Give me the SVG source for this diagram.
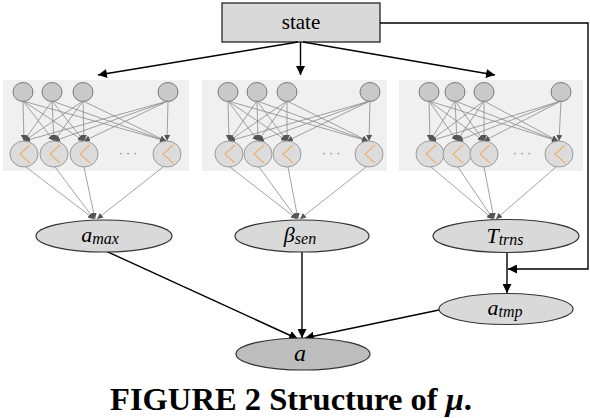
<svg xmlns="http://www.w3.org/2000/svg" width="590" height="418" viewBox="0 0 590 418">
<style>
.panel{fill:#f0f0f0;stroke:none}
.tc{fill:#c9c9c9;stroke:#7a7a7a;stroke-width:1}
.bc{fill:#dcdcdc;stroke:#9a9a9a;stroke-width:1}
.chev{fill:none;stroke:#f0b070;stroke-width:1.2}
.gm{stroke:#8a8a8a;stroke-width:0.8;fill:none;marker-end:url(#ga)}
.k{stroke:#000;stroke-width:1.4;fill:none;marker-end:url(#ka)}
.node{fill:#d9d9d9;stroke:#333;stroke-width:1.2}
.serif{font-family:"Liberation Serif","Times New Roman",serif;fill:#000}
.math{font-family:"Liberation Serif","DejaVu Serif",serif;font-style:italic;font-size:22px;fill:#000}
.sub{font-size:16px}
.dots{font-family:"Liberation Sans",sans-serif;font-size:12px;fill:#777}
.cap{font-family:"Liberation Serif","Times New Roman",serif;font-weight:bold;font-size:31px;fill:#000}
</style>
<defs>
<marker id="ka" viewBox="0 0 10 10" refX="10" refY="5" markerWidth="9" markerHeight="9" markerUnits="userSpaceOnUse" orient="auto"><path d="M0,0 L10,5 L0,10 z" fill="#000"/></marker>
<marker id="ga" viewBox="0 0 10 10" refX="10" refY="5" markerWidth="6" markerHeight="6" markerUnits="userSpaceOnUse" orient="auto"><path d="M0,0 L10,5 L0,10 z" fill="#555"/></marker>
</defs>

<g id="state">
<rect x="222" y="3" width="158" height="39" fill="#d9d9d9" stroke="#333" stroke-width="1.4"/>
<text class="serif" x="301" y="29" text-anchor="middle" style="font-size:21px">state</text>
</g>

<g id="panel1">
<rect class="panel" x="3" y="80" width="186" height="91"/>
<ellipse class="tc" cx="23" cy="92" rx="10" ry="9.5"/><ellipse class="tc" cx="52" cy="92" rx="10" ry="9.5"/><ellipse class="tc" cx="83" cy="92" rx="10" ry="9.5"/><ellipse class="tc" cx="168" cy="92" rx="10" ry="9.5"/>
<g class="gm">
<line x1="23" y1="101" x2="24" y2="141"/><line x1="23" y1="101" x2="54" y2="141"/><line x1="23" y1="101" x2="84" y2="141"/><line x1="23" y1="101" x2="166" y2="141"/>
<line x1="52" y1="101" x2="24" y2="141"/><line x1="52" y1="101" x2="54" y2="141"/><line x1="52" y1="101" x2="84" y2="141"/><line x1="52" y1="101" x2="166" y2="141"/>
<line x1="83" y1="101" x2="24" y2="141"/><line x1="83" y1="101" x2="54" y2="141"/><line x1="83" y1="101" x2="84" y2="141"/><line x1="83" y1="101" x2="166" y2="141"/>
<line x1="168" y1="101" x2="24" y2="141"/><line x1="168" y1="101" x2="54" y2="141"/><line x1="168" y1="101" x2="84" y2="141"/><line x1="168" y1="101" x2="167" y2="141"/>
</g>
<ellipse class="bc" cx="24" cy="154" rx="14" ry="13"/><ellipse class="bc" cx="54" cy="154" rx="14" ry="13"/><ellipse class="bc" cx="84" cy="154" rx="14" ry="13"/><ellipse class="bc" cx="167" cy="154" rx="14" ry="13"/>
<path class="chev" d="M30,145 L20,154 L30,163 M60,145 L50,154 L60,163 M90,145 L80,154 L90,163 M173,145 L163,154 L173,163"/>
<text class="dots" x="128" y="157" text-anchor="middle">· · ·</text>
</g>

<g id="panel2">
<rect class="panel" x="202" y="80" width="185" height="91"/>
<ellipse class="tc" cx="228" cy="92" rx="10" ry="9.5"/><ellipse class="tc" cx="257" cy="92" rx="10" ry="9.5"/><ellipse class="tc" cx="287" cy="92" rx="10" ry="9.5"/><ellipse class="tc" cx="370" cy="92" rx="10" ry="9.5"/>
<g class="gm">
<line x1="228" y1="101" x2="229" y2="141"/><line x1="228" y1="101" x2="258" y2="141"/><line x1="228" y1="101" x2="287" y2="141"/><line x1="228" y1="101" x2="368" y2="141"/>
<line x1="257" y1="101" x2="229" y2="141"/><line x1="257" y1="101" x2="258" y2="141"/><line x1="257" y1="101" x2="287" y2="141"/><line x1="257" y1="101" x2="368" y2="141"/>
<line x1="287" y1="101" x2="229" y2="141"/><line x1="287" y1="101" x2="258" y2="141"/><line x1="287" y1="101" x2="287" y2="141"/><line x1="287" y1="101" x2="368" y2="141"/>
<line x1="370" y1="101" x2="229" y2="141"/><line x1="370" y1="101" x2="258" y2="141"/><line x1="370" y1="101" x2="287" y2="141"/><line x1="370" y1="101" x2="369" y2="141"/>
</g>
<ellipse class="bc" cx="229" cy="154" rx="14" ry="13"/><ellipse class="bc" cx="258" cy="154" rx="14" ry="13"/><ellipse class="bc" cx="287" cy="154" rx="14" ry="13"/><ellipse class="bc" cx="369" cy="154" rx="14" ry="13"/>
<path class="chev" d="M235,145 L225,154 L235,163 M264,145 L254,154 L264,163 M293,145 L283,154 L293,163 M375,145 L365,154 L375,163"/>
<text class="dots" x="331" y="157" text-anchor="middle">· · ·</text>
</g>

<g id="panel3">
<rect class="panel" x="399" y="80" width="184" height="91"/>
<ellipse class="tc" cx="429" cy="92" rx="10" ry="9.5"/><ellipse class="tc" cx="455" cy="92" rx="10" ry="9.5"/><ellipse class="tc" cx="484" cy="92" rx="10" ry="9.5"/><ellipse class="tc" cx="561" cy="92" rx="10" ry="9.5"/>
<g class="gm">
<line x1="429" y1="101" x2="430" y2="141"/><line x1="429" y1="101" x2="457" y2="141"/><line x1="429" y1="101" x2="484" y2="141"/><line x1="429" y1="101" x2="558" y2="141"/>
<line x1="455" y1="101" x2="430" y2="141"/><line x1="455" y1="101" x2="457" y2="141"/><line x1="455" y1="101" x2="484" y2="141"/><line x1="455" y1="101" x2="558" y2="141"/>
<line x1="484" y1="101" x2="430" y2="141"/><line x1="484" y1="101" x2="457" y2="141"/><line x1="484" y1="101" x2="484" y2="141"/><line x1="484" y1="101" x2="558" y2="141"/>
<line x1="561" y1="101" x2="430" y2="141"/><line x1="561" y1="101" x2="457" y2="141"/><line x1="561" y1="101" x2="484" y2="141"/><line x1="561" y1="101" x2="559" y2="141"/>
</g>
<ellipse class="bc" cx="430" cy="154" rx="14" ry="13"/><ellipse class="bc" cx="457" cy="154" rx="14" ry="13"/><ellipse class="bc" cx="484" cy="154" rx="14" ry="13"/><ellipse class="bc" cx="559" cy="154" rx="14" ry="13"/>
<path class="chev" d="M436,145 L426,154 L436,163 M463,145 L453,154 L463,163 M490,145 L480,154 L490,163 M565,145 L555,154 L565,163"/>
<text class="dots" x="522" y="157" text-anchor="middle">· · ·</text>
</g>

<g id="connectors">
<line class="k" x1="298" y1="42" x2="98" y2="75"/>
<line class="k" x1="300.5" y1="42" x2="300.5" y2="75"/>
<line class="k" x1="303" y1="42" x2="495" y2="75"/>
<path class="k" d="M380,23 H588 V269 H508"/>
<g class="gm">
<line x1="26" y1="167" x2="94" y2="219"/><line x1="55" y1="167" x2="94" y2="219"/><line x1="84" y1="167" x2="95" y2="219"/><line x1="163" y1="167" x2="97" y2="219"/>
<line x1="230" y1="167" x2="297" y2="219"/><line x1="259" y1="167" x2="297" y2="219"/><line x1="288" y1="167" x2="298" y2="219"/><line x1="366" y1="167" x2="300" y2="219"/>
<line x1="431" y1="167" x2="493" y2="219"/><line x1="458" y1="167" x2="493" y2="219"/><line x1="484" y1="167" x2="494" y2="219"/><line x1="556" y1="167" x2="496" y2="219"/>
</g>
<line class="k" x1="97" y1="247" x2="298" y2="339"/>
<line class="k" x1="302" y1="252" x2="302" y2="338"/>
<line class="k" x1="439" y1="310" x2="305" y2="338"/>
<line class="k" x1="507" y1="253" x2="507" y2="293"/>
</g>

<g id="a_max">
<ellipse class="node" cx="104" cy="236" rx="68" ry="16"/>
<text class="math" x="100" y="242" text-anchor="middle">a<tspan class="sub" dy="2">max</tspan></text>
</g>
<g id="beta_sen">
<ellipse class="node" cx="302" cy="236" rx="67" ry="16"/>
<text class="math" x="300" y="242" text-anchor="middle">β<tspan class="sub" dy="2">sen</tspan></text>
</g>
<g id="T_trns">
<ellipse class="node" cx="506" cy="236" rx="73" ry="16.5"/>
<text class="math" x="505" y="243" text-anchor="middle">T<tspan class="sub" dy="2">trns</tspan></text>
</g>
<g id="a_tmp">
<ellipse class="node" cx="506" cy="309" rx="67" ry="15.5"/>
<text class="math" x="505" y="315" text-anchor="middle">a<tspan class="sub" dy="2">tmp</tspan></text>
</g>
<g id="a">
<ellipse class="node" cx="303" cy="354" rx="67" ry="16" style="fill:#bdbdbd"/>
<text class="math" x="300" y="361" text-anchor="middle" style="font-size:24px">a</text>
</g>

<text class="cap" x="291" y="410" text-anchor="middle" textLength="362" lengthAdjust="spacingAndGlyphs">FIGURE 2 Structure of <tspan style="font-style:italic">μ</tspan>.</text>
</svg>
